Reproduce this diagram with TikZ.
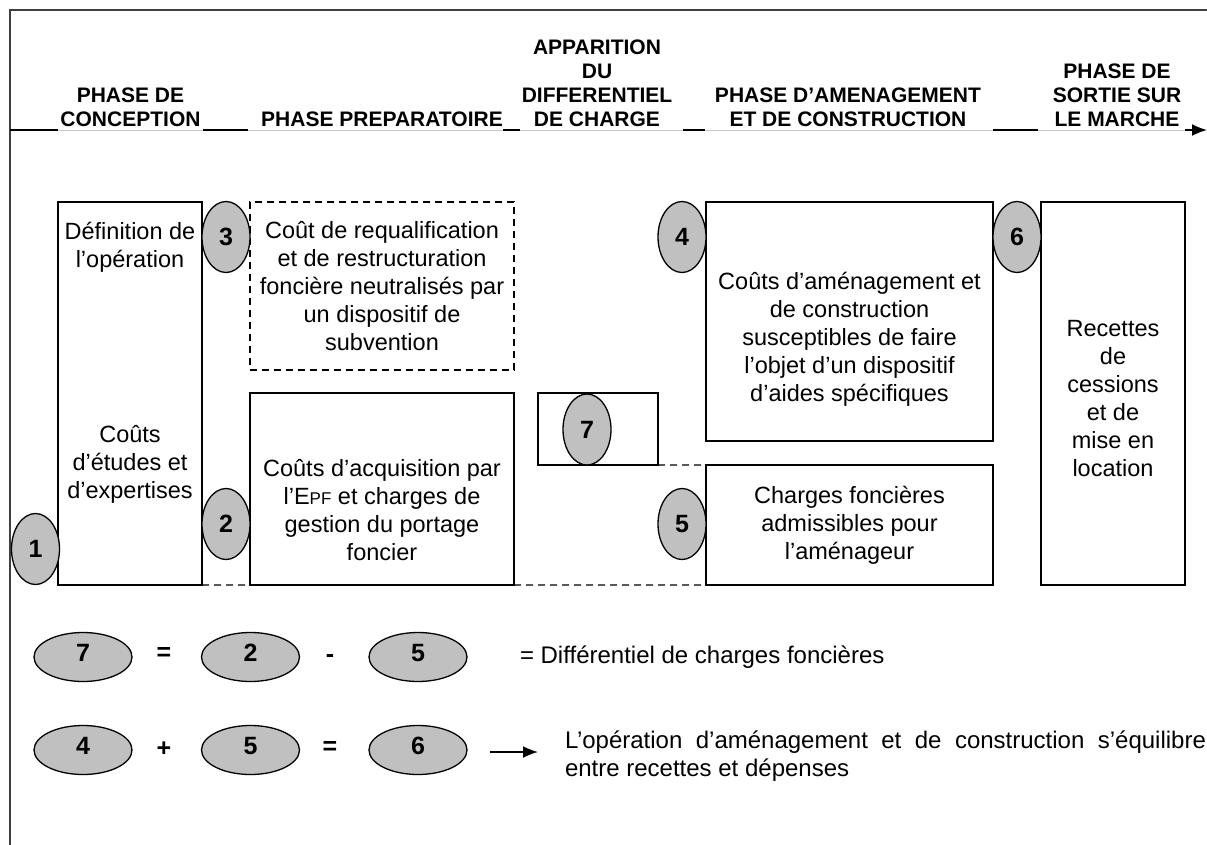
\documentclass[tikz,border=0pt]{standalone}
\usepackage{fontspec}
\setmainfont{Liberation Sans}
\usetikzlibrary{shapes.geometric,arrows.meta}
\definecolor{ovalgray}{RGB}{192,192,192}
\definecolor{framegray}{RGB}{64,64,64}
\begin{document}
\begin{tikzpicture}[x=1bp,y=-1bp,
  every node/.style={inner sep=0pt,outer sep=0pt},
  body/.style={font=\fontsize{23.5bp}{28bp}\selectfont, align=center},
  head/.style={font=\fontsize{21bp}{24bp}\selectfont\bfseries, align=center, anchor=south},
  box/.style={draw, line width=1.3bp, anchor=north west},
  dbox/.style={box, dash pattern=on 7bp off 5bp},
  dline/.style={line width=1.4bp, dash pattern=on 7bp off 5bp},
  oval/.style={ellipse, draw, line width=1.3bp, fill=ovalgray,
    font=\fontsize{25bp}{28bp}\selectfont\bfseries},
  vell/.style={oval, minimum width=48bp, minimum height=71bp},
  hell/.style={oval, minimum width=98bp, minimum height=49bp,
    text height=18bp, text depth=10bp},
  op/.style={font=\fontsize{25bp}{28bp}\selectfont\bfseries},
  note/.style={font=\fontsize{24bp}{28bp}\selectfont},
  axislight/.style={gray!45, line width=1bp},
  axisdark/.style={black, line width=1.6bp}
]
\useasboundingbox (0,0) rectangle (1207,845);

% outer frame (top and left edges)
\draw[framegray, line width=2bp] (10,845) -- (10,10) -- (1207,10);

% time axis
\coordinate (a0) at (10,130);
\coordinate (a1) at (58,130);
\coordinate (a2) at (203,130);
\coordinate (a3) at (248,130);
\coordinate (a4) at (503,130);
\coordinate (a5) at (520,130);
\coordinate (a6) at (683,130);
\coordinate (a7) at (705,130);
\coordinate (a8) at (993,130);
\coordinate (a9) at (1038,130);
\coordinate (a10) at (1185,130);
\coordinate (a11) at (1207,130);
\draw[axislight] (a0) -- (a10);
\draw[axisdark] (a0) -- (a1);
\draw[axisdark] (a2) -- (a3);
\draw[axisdark] (a4) -- (a5);
\draw[axisdark] (a6) -- (a7);
\draw[axisdark] (a8) -- (a9);
\draw[axisdark, -{Latex[length=15bp,width=12bp]}] (a10) -- (a11);

% phase headings
\node[head] (h1) at (130.5,127) {PHASE DE\\CONCEPTION};
\node[head] (h2) at (382,127) {PHASE PREPARATOIRE};
\node[head] (h3) at (597,127) {APPARITION\\DU\\DIFFERENTIEL\\DE CHARGE};
\node[head] (h4) at (848,127) {PHASE D’AMENAGEMENT\\ET DE CONSTRUCTION};
\node[head] (h5) at (1117,127) {PHASE DE\\SORTIE SUR\\LE MARCHE};

% conception column
\node[box, minimum width=144bp, minimum height=383bp] (bA) at (58,202) {};
\node[body] (tA1) at (130,247) {Définition de\\l’opération};
\node[body] (tA2) at (130,464) {Coûts\\d’études et\\d’expertises};

% preparatory column
\node[dbox, body, minimum width=264bp, minimum height=168bp] (b3) at (250,202)
  {Coût de requalification\\et de restructuration\\foncière neutralisés par\\un dispositif de\\subvention};
\node[box, minimum width=264bp, minimum height=192bp] (b2) at (250,393) {};
\node[body] (t2) at (382,510)
  {Coûts d’acquisition par\\l’E{\fontsize{17bp}{28bp}\selectfont PF} et charges de\\gestion du portage\\foncier};

% differential
\node[box, minimum width=120bp, minimum height=72bp] (b7) at (538,393) {};

% development and construction column
\node[box, minimum width=287bp, minimum height=239bp] (b4) at (706,202) {};
\node[body] (t4) at (849.5,339)
  {Coûts d’aménagement et\\de construction\\susceptibles de faire\\l’objet d’un dispositif\\d’aides spécifiques};
\node[box, body, minimum width=287bp, minimum height=120bp] (b5) at (706,465)
  {Charges foncières\\admissibles pour\\l’aménageur};

% market exit column
\node[box, minimum width=144bp, minimum height=383bp] (b6) at (1041,202) {};
\node[body] (t6) at (1113,399) {Recettes\\de\\cessions\\et de\\mise en\\location};

% dashed links along the bottom edges
\draw[dline] (bA.south east) -- (b2.south west);
\draw[dline] (b2.south east) -- (b5.south west);
\draw[dline] (b7.south east) -- (b5.north west);

% numbered markers
\node[vell] (e1) at (35.5,549) {1};
\node[vell] (e3) at (226,237) {3};
\node[vell] (e2) at (226,524) {2};
\node[vell] (e7) at (587,429.5) {7};
\node[vell] (e4) at (682,237) {4};
\node[vell] (e5) at (682,524) {5};
\node[vell] (e6) at (1017,237) {6};

% first relation
\node[hell] (r7) at (83,657) {7};
\node[op] (eqa) at (164,654) {=};
\node[hell] (r2) at (250.5,657) {2};
\node[op] (mia) at (330,659) {-};
\node[hell] (r5a) at (418,657) {5};
\node[note, anchor=west] (def) at (520,657) {= Différentiel de charges foncières};

% second relation
\node[hell] (r4) at (83,750) {4};
\node[op] (pla) at (164,749) {+};
\node[hell] (r5b) at (250.5,750) {5};
\node[op] (eqb) at (330,748) {=};
\node[hell] (r6) at (418,750) {6};
\coordinate (arS) at (490,752);
\coordinate (arE) at (538,752);
\draw[line width=1.6bp, -{Latex[length=15bp,width=12bp]}] (arS) -- (arE);
\node[note, anchor=north west, text width=641bp, align=justify] (conc) at (565,731)
  {L’opération d’aménagement et de construction s’équilibre\linebreak entre recettes et dépenses};
\end{tikzpicture}
\end{document}
